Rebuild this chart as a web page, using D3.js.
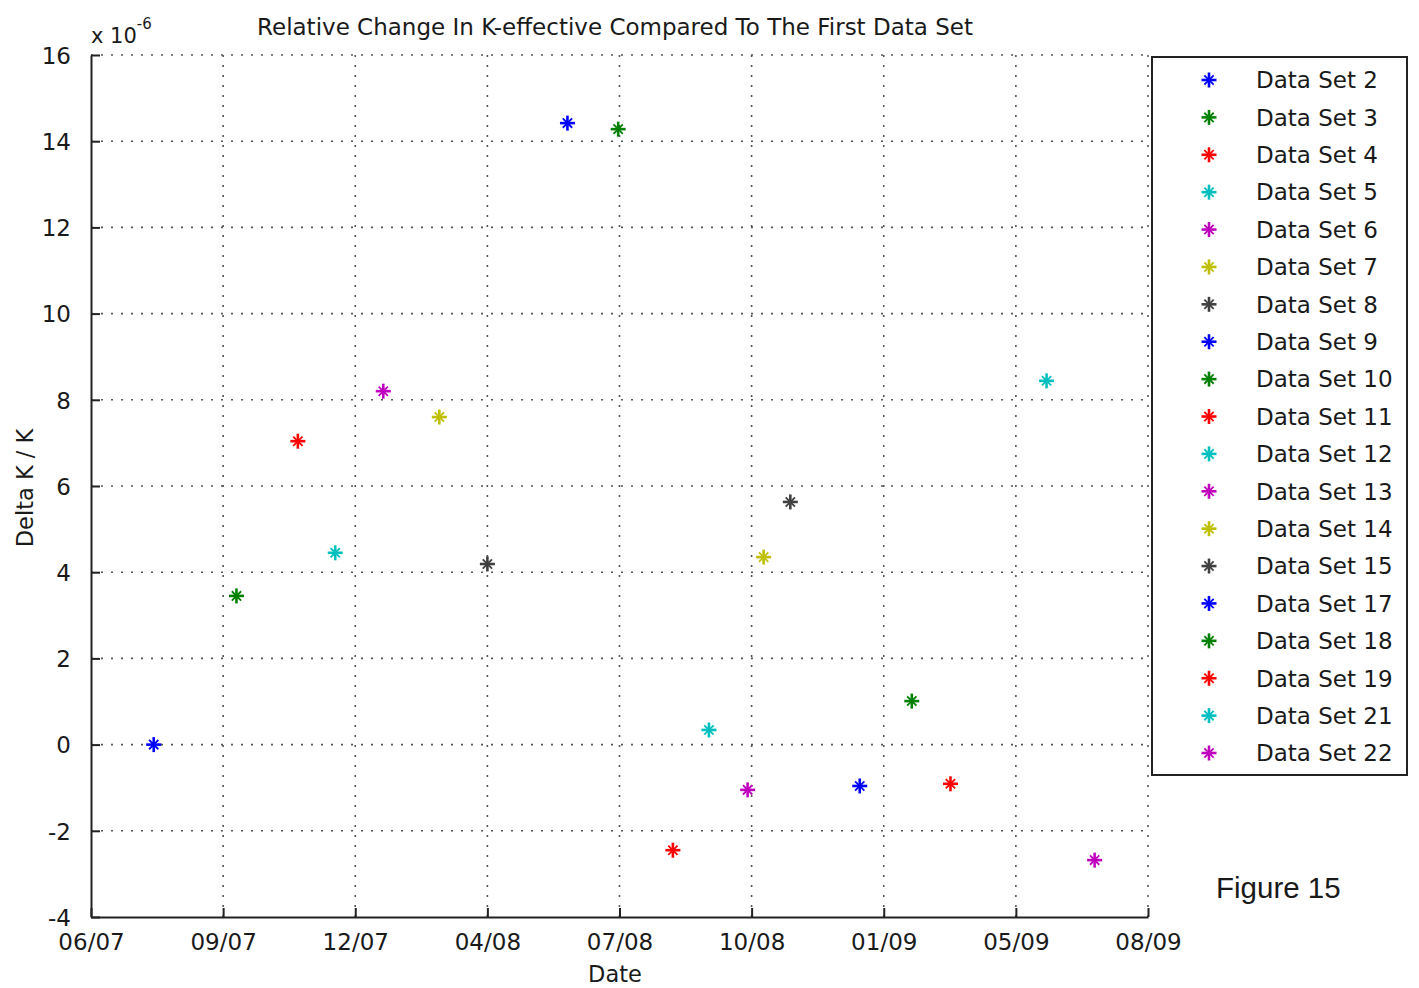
<!DOCTYPE html>
<html>
<head>
<meta charset="utf-8">
<script src="https://cdn.jsdelivr.net/npm/d3@7"></script>
<style>
  html, body { margin: 0; padding: 0; background: #fff; }
  svg { display: block; }
  text { fill: #1a1a1a; }
</style>
</head>
<body>
<svg id="chart" width="1419" height="988"></svg>
<script>
// Measurement dates and relative change in k-effective (units of 1e-6)
const seriesNames = ["Data Set 2", "Data Set 3", "Data Set 4", "Data Set 5", "Data Set 6",
  "Data Set 7", "Data Set 8", "Data Set 9", "Data Set 10", "Data Set 11", "Data Set 12",
  "Data Set 13", "Data Set 14", "Data Set 15", "Data Set 17", "Data Set 18", "Data Set 19",
  "Data Set 21", "Data Set 22"];
const seriesDates = ["2007-08-01", "2007-10-02", "2007-11-17", "2007-12-15", "2008-01-20",
  "2008-03-02", "2008-04-07", "2008-06-06", "2008-07-14", "2008-08-24", "2008-09-20",
  "2008-10-19", "2008-10-31", "2008-11-20", "2009-01-11", "2009-02-19", "2009-03-20",
  "2009-05-31", "2009-07-06"];
const seriesValues = [0.0, 3.45, 7.04, 4.45, 8.2, 7.6, 4.19, 14.42, 14.28, -2.45, 0.34,
  -1.05, 4.35, 5.63, -0.96, 1.01, -0.91, 8.44, -2.68];

// Axis ticks
const xTickDates = ["2007-06-15", "2007-09-22", "2007-12-30", "2008-04-07", "2008-07-15",
  "2008-10-22", "2009-01-29", "2009-05-08", "2009-08-15"];
const xTickLabels = ["06/07", "09/07", "12/07", "04/08", "07/08", "10/08", "01/09", "05/09", "08/09"];
const yTicks = [-4, -2, 0, 2, 4, 6, 8, 10, 12, 14, 16];

// Default line colour order
const colorOrder = ["#0000ff", "#008000", "#ff0000", "#00bfbf", "#bf00bf", "#bfbf00", "#404040"];

const parse = d3.utcParse("%Y-%m-%d");
const points = seriesNames.map((name, i) => ({
  name, date: parse(seriesDates[i]), value: seriesValues[i], color: colorOrder[i % colorOrder.length]
}));
const tickDates = xTickDates.map(parse);

const svg = d3.select("#chart");
const plot = { left: 91, right: 1148, top: 55, bottom: 917 };

const x = d3.scaleUtc()
  .domain([tickDates[0], tickDates[tickDates.length - 1]])
  .range([plot.left, plot.right]);
const y = d3.scaleLinear().domain([-4, 16]).range([plot.bottom, plot.top]);

const FONT = "'DejaVu Sans', 'Liberation Sans', sans-serif";

// Dotted grid
const grid = svg.append("g").attr("stroke", "#555").attr("stroke-width", 1.6)
  .attr("stroke-dasharray", "2,8");
grid.selectAll("line.h").data(yTicks.filter(t => t > -4)).join("line")
  .attr("x1", plot.left).attr("x2", plot.right)
  .attr("y1", d => y(d)).attr("y2", d => y(d));
grid.selectAll("line.v").data(tickDates.slice(1)).join("line")
  .attr("x1", d => x(d)).attr("x2", d => x(d))
  .attr("y1", plot.bottom).attr("y2", plot.top);

// Axes: ticks point inward
const xAxis = d3.axisBottom(x).tickValues(tickDates)
  .tickFormat((d, i) => xTickLabels[i]).tickSizeInner(-9).tickSizeOuter(0).tickPadding(17);
const yAxis = d3.axisLeft(y).tickValues(yTicks)
  .tickFormat(d => String(d)).tickSizeInner(-9).tickSizeOuter(0).tickPadding(20);

const gx = svg.append("g").attr("transform", `translate(0,${plot.bottom})`).call(xAxis);
const gy = svg.append("g").attr("transform", `translate(${plot.left},0)`).call(yAxis);
[gx, gy].forEach(g => {
  g.select(".domain").attr("stroke", "#222").attr("stroke-width", 2);
  g.selectAll(".tick line").attr("stroke", "#222").attr("stroke-width", 2);
  g.selectAll(".tick text").attr("font-family", FONT).attr("font-size", 23).attr("fill", "#1a1a1a");
});
gx.selectAll(".tick text").attr("dy", "0.71em");
gy.selectAll(".tick text").attr("dy", "0.36em");

// Exponent label
const expo = svg.append("text").attr("x", 91).attr("y", 43)
  .attr("font-family", FONT).attr("font-size", 21);
expo.append("tspan").text("x 10");
expo.append("tspan").attr("dy", -14).attr("font-size", 15).text("-6");

// Title and axis labels
svg.append("text").attr("x", 615).attr("y", 35).attr("text-anchor", "middle")
  .attr("font-family", FONT).attr("font-size", 23)
  .text("Relative Change In K-effective Compared To The First Data Set");
svg.append("text").attr("x", 615).attr("y", 982).attr("text-anchor", "middle")
  .attr("font-family", FONT).attr("font-size", 22.5).text("Date");
svg.append("text").attr("transform", "translate(33,488) rotate(-90)").attr("text-anchor", "middle")
  .attr("font-family", FONT).attr("font-size", 22.5).text("Delta K / K");

// Asterisk marker: bold plus with a lighter diagonal cross
function star(g, size) {
  const r = size, d = size * 0.62;
  g.append("line").attr("x1", -r).attr("x2", r).attr("y1", 0).attr("y2", 0);
  g.append("line").attr("x1", 0).attr("x2", 0).attr("y1", -r).attr("y2", r);
  g.append("line").attr("x1", -d).attr("x2", d).attr("y1", -d).attr("y2", d).attr("stroke-width", 1.8);
  g.append("line").attr("x1", -d).attr("x2", d).attr("y1", d).attr("y2", -d).attr("stroke-width", 1.8);
}

svg.append("g").selectAll("g").data(points).join("g")
  .attr("transform", d => `translate(${x(d.date)},${y(d.value)})`)
  .attr("stroke", d => d.color).attr("stroke-width", 2.6)
  .each(function () { star(d3.select(this), 7.5); });

// Legend
const legend = svg.append("g");
legend.append("rect").attr("x", 1152).attr("y", 57).attr("width", 255).attr("height", 718)
  .attr("fill", "#fff").attr("stroke", "#222").attr("stroke-width", 2);
const rowY = d3.scalePoint().domain(seriesNames).range([80, 753]);
const rows = legend.selectAll("g.row").data(points).join("g")
  .attr("transform", d => `translate(0,${rowY(d.name)})`);
rows.append("g").attr("transform", "translate(1209,0)")
  .attr("stroke", d => d.color).attr("stroke-width", 2.6)
  .each(function () { star(d3.select(this), 7.5); });
rows.append("text").attr("x", 1256).attr("dy", "0.36em")
  .attr("font-family", FONT).attr("font-size", 23).text(d => d.name);

// Figure caption
svg.append("text").attr("x", 1216).attr("y", 898)
  .attr("font-family", "'Liberation Sans', Arial, sans-serif").attr("font-size", 29.5)
  .attr("fill", "#000").text("Figure 15");
</script>
</body>
</html>
